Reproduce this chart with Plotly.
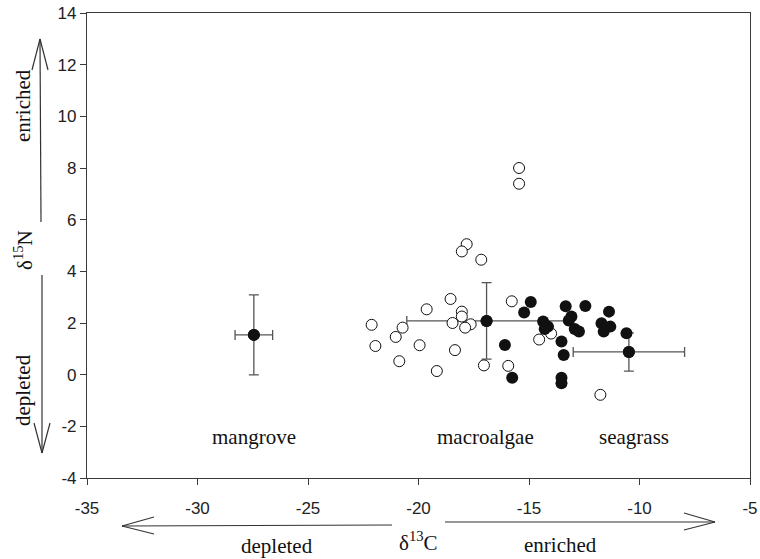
import plotly.graph_objects as go

# ---------------- data ----------------
open_d13C = [-15.45, -15.45, -17.82, -18.04, -17.16, -18.55, -15.78, -19.63, -18.04, -18.04,
             -22.12, -20.72, -18.46, -17.64, -17.89, -21.03, -21.95, -19.95, -18.35, -20.87,
             -17.04, -19.17, -15.94, -14.54, -14.00, -11.77]
open_d15N = [8.00, 7.39, 5.05, 4.77, 4.45, 2.93, 2.84, 2.53, 2.44, 2.25,
             1.93, 1.82, 2.00, 1.95, 1.82, 1.46, 1.11, 1.14, 0.95, 0.52,
             0.36, 0.14, 0.34, 1.36, 1.59, -0.78]

filled_d13C = [-14.92, -15.22, -16.09, -15.76, -14.36, -14.14, -14.29, -13.53, -13.43, -13.53,
               -13.53, -13.34, -12.45, -13.08, -13.20, -12.93, -12.74, -11.38, -11.72, -11.32,
               -11.62, -10.59]
filled_d15N = [2.81, 2.41, 1.15, -0.12, 2.06, 1.86, 1.77, 1.28, 0.76, -0.12,
               -0.33, 2.65, 2.66, 2.25, 2.10, 1.77, 1.67, 2.44, 1.99, 1.86,
               1.67, 1.60]

source_names = ["mangrove", "macroalgae", "seagrass"]
source_d13C = [-27.45, -16.92, -10.48]
source_d13C_sd = [0.85, 3.61, 2.52]
source_d15N = [1.54, 2.08, 0.88]
source_d15N_sd = [1.55, 1.48, 0.74]
source_label_d13C = [-27.45, -16.95, -10.26]
source_label_d15N = [-2.41, -2.41, -2.41]

x_ticks = [-35, -30, -25, -20, -15, -10, -5]
x_ticklabels = ["-35", "-30", "-25", "-20", "-15", "-10", "-5"]
y_ticks = [-4, -2, 0, 2, 4, 6, 8, 10, 12, 14]
y_ticklabels = ["-4", "-2", "0", "2", "4", "6", "8", "10", "12", "14"]

# ---------------- layout geometry ----------------
W, H = 760, 559
ML, MR, MT, MB = 87, 10, 13, 81
PW, PH = W - ML - MR, H - MT - MB


def px(xp):
    return (xp - ML) / PW


def py(yp):
    return (H - MB - yp) / PH


SERIF = "Liberation Serif, Times New Roman, serif"
SANS = "Liberation Sans, Arial, sans-serif"
LINE = "#3a3a3a"
TXT = dict(family=SERIF, size=21, color="#111111")

fig = go.Figure()

# source means with SD error bars
fig.add_trace(go.Scatter(
    x=source_d13C, y=source_d15N, mode="markers",
    marker=dict(size=12, color="#111111"),
    error_x=dict(type="data", array=source_d13C_sd, visible=True,
                 color="#555555", thickness=1.3, width=5),
    error_y=dict(type="data", array=source_d15N_sd, visible=True,
                 color="#555555", thickness=1.3, width=5),
    showlegend=False, hoverinfo="skip"))

fig.add_trace(go.Scatter(
    x=open_d13C, y=open_d15N, mode="markers",
    marker=dict(size=11, color="white", line=dict(color="#111111", width=1)),
    showlegend=False))

fig.add_trace(go.Scatter(
    x=filled_d13C, y=filled_d15N, mode="markers",
    marker=dict(size=12, color="#111111", line=dict(width=0)),
    showlegend=False))

# re-draw mean markers on top
fig.add_trace(go.Scatter(
    x=source_d13C, y=source_d15N, mode="markers",
    marker=dict(size=12, color="#111111"),
    showlegend=False, hoverinfo="skip"))

annotations = []
for name, xv, yv in zip(source_names, source_label_d13C, source_label_d15N):
    annotations.append(dict(x=xv, y=yv, xref="x", yref="y", text=name, showarrow=False,
                            font=TXT, xanchor="center", yanchor="middle"))


def note(xp, yp, text, angle=0):
    return dict(x=px(xp), y=py(yp), xref="paper", yref="paper", text=text,
                showarrow=False, textangle=angle, font=TXT,
                xanchor="center", yanchor="middle")


# axis titles and direction words
annotations += [
    note(418, 541, "δ<sup>13</sup>C"),
    note(277, 546, "depleted"),
    note(560, 545, "enriched"),
    note(23, 250, "δ<sup>15</sup>N", -90),
    note(23, 106, "enriched", -90),
    note(23, 390, "depleted", -90),
]

# open-V arrows drawn as line shapes (decoration, pixel positions)
arrow_segments = [
    # vertical up arrow
    ((41, 222), (40, 39)), ((40, 39), (32, 70)), ((40, 39), (48, 70)),
    # vertical down arrow
    ((42, 275), (42, 453)), ((42, 453), (34, 423)), ((42, 453), (50, 423)),
    # horizontal left arrow
    ((392, 525), (122, 526)), ((122, 526), (154, 517)), ((122, 526), (154, 534)),
    # horizontal right arrow
    ((445, 522), (715, 522)), ((715, 522), (684, 513)), ((715, 522), (684, 530)),
]
shapes = []
for (x0, y0), (x1, y1) in arrow_segments:
    shapes.append(dict(type="line", xref="paper", yref="paper",
                       x0=px(x0), y0=py(y0), x1=px(x1), y1=py(y1),
                       line=dict(color="#333333", width=1.2)))

fig.update_layout(
    width=W, height=H,
    margin=dict(l=ML, r=MR, t=MT, b=MB, autoexpand=False),
    paper_bgcolor="white", plot_bgcolor="white",
    showlegend=False,
    annotations=annotations,
    shapes=shapes,
    xaxis=dict(range=[-35, -5], tickvals=x_ticks, ticktext=x_ticklabels,
               automargin=False,
               showgrid=False, zeroline=False, showline=True, mirror=True,
               linecolor=LINE, linewidth=1.2, ticks="outside", ticklen=6,
               tickcolor=LINE, tickwidth=1, ticklabelstandoff=8,
               tickfont=dict(family=SANS, size=17, color="#222222")),
    yaxis=dict(range=[-4, 14], tickvals=y_ticks, ticktext=y_ticklabels,
               automargin=False,
               showgrid=False, zeroline=False, showline=True, mirror=True,
               linecolor=LINE, linewidth=1.2, ticks="outside", ticklen=6,
               tickcolor=LINE, tickwidth=1,
               tickfont=dict(family=SANS, size=17, color="#222222")),
)

fig.write_html("out.html", config={"displayModeBar": False},
               post_script="document.body.style.margin='0px';document.body.style.overflow='hidden';")
